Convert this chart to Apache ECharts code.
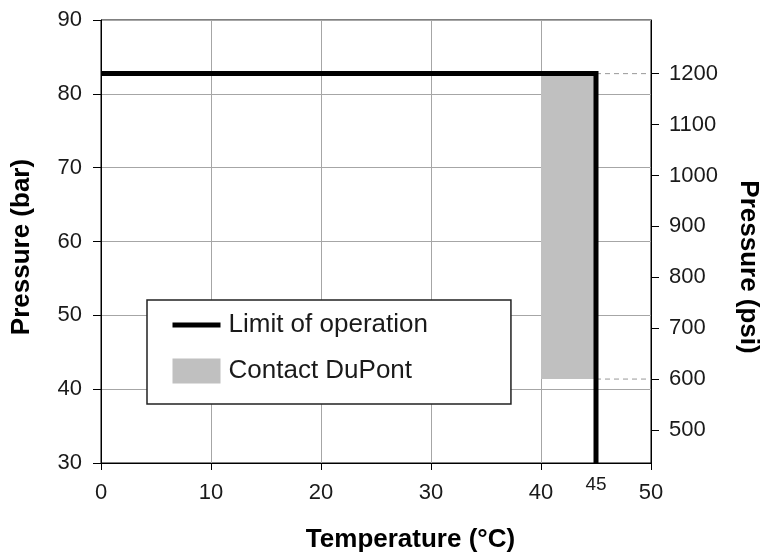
<!DOCTYPE html>
<html>
<head>
<meta charset="utf-8">
<script src="https://cdn.jsdelivr.net/npm/echarts@6/dist/echarts.min.js"></script>
<style>
html,body{margin:0;padding:0;background:#fff;}
#chart{width:761px;height:553px;}
</style>
</head>
<body>
<div id="chart"></div>
<script>
// ---- data ----
const xTicks = [0, 10, 20, 30, 40, 50];
const xExtraTick = [45];
const barTicks = [30, 40, 50, 60, 70, 80, 90];
const psiTicks = [500, 600, 700, 800, 900, 1000, 1100, 1200];
const PSI_PER_BAR = 14.5038;

// limit of operation polyline (temperature °C, pressure bar)
const limitTemp = [0, 45, 45];
const limitBar = [82.74, 82.74, 30];

// Contact DuPont zone: [tMin, pMin(bar), tMax, pMax(bar)]
const contactZone = [[40, 41.37, 45, 82.74]];

// dashed reference lines on psi axis (from x=45 to x=50)
const refPsi = [1200, 600];
const refTemp = [45, 50];

const FONT = "'Liberation Sans', Arial, sans-serif";
const TXT = '#1a1a1a';

const chart = echarts.init(document.getElementById('chart'), null, {renderer: 'canvas'});

const series = [
  {
    name: 'Contact DuPont',
    type: 'custom',
    z: 1,
    itemStyle: {color: '#c0c0c0'},
    encode: {x: [0, 2], y: [1, 3]},
    renderItem: function (params, api) {
      const p0 = api.coord([api.value(0), api.value(3)]);
      const p1 = api.coord([api.value(2), api.value(1)]);
      return {
        type: 'rect',
        shape: {x: p0[0], y: p0[1], width: p1[0] - p0[0], height: p1[1] - p0[1]},
        style: {fill: '#c0c0c0'}
      };
    },
    data: contactZone
  },
  {
    name: 'Limit of operation',
    type: 'line',
    z: 5,
    symbol: 'none',
    color: '#000',
    lineStyle: {color: '#000', width: 5, cap: 'butt', join: 'miter'},
    data: limitTemp.map((t, i) => [t, limitBar[i]])
  }
];
refPsi.forEach(p => {
  series.push({
    name: 'ref' + p,
    type: 'line',
    yAxisIndex: 1,
    z: 3,
    symbol: 'none',
    silent: true,
    lineStyle: {color: '#999', width: 1, type: [5, 4]},
    data: refTemp.map(t => [t, p])
  });
});

const option = {
  animation: false,
  backgroundColor: '#fff',
  textStyle: {fontFamily: FONT},
  grid: {
    left: 101, right: 110, top: 20, bottom: 90,
    outerBoundsMode: 'none', containLabel: false,
    show: true, borderColor: '#000', borderWidth: 1, backgroundColor: 'transparent'
  },
  legend: {
    orient: 'vertical',
    left: 147, top: 300,
    padding: [12, 83, 20, 23],
    itemGap: 20,
    itemWidth: 48, itemHeight: 25,
    borderColor: '#222', borderWidth: 1.5,
    backgroundColor: '#fff',
    textStyle: {fontSize: 26, color: TXT, fontFamily: FONT, padding: [0, 0, 0, 3]},
    data: [
      {name: 'Limit of operation', itemStyle: {opacity: 0}, lineStyle: {color: '#000', width: 5}},
      {name: 'Contact DuPont', icon: 'rect', itemStyle: {color: '#c0c0c0'}}
    ]
  },
  xAxis: [
    {
      type: 'value', min: 0, max: 50, interval: 10,
      name: 'Temperature (°C)', nameLocation: 'middle', nameGap: 64,
      nameTextStyle: {fontSize: 26, fontWeight: 'bold', color: '#000', fontFamily: FONT, padding: [0, 0, 0, 69]},
      axisLine: {show: true, onZero: false, lineStyle: {color: '#000', width: 1}},
      axisTick: {show: true, length: 7, lineStyle: {color: '#000'}},
      axisLabel: {fontSize: 22, color: TXT, margin: 19, fontFamily: FONT, customValues: xTicks},
      splitLine: {show: true, lineStyle: {color: '#a6a6a6', width: 1}}
    },
    {
      type: 'value', min: 0, max: 50, position: 'bottom',
      axisLine: {show: false}, axisTick: {show: false}, splitLine: {show: false},
      axisLabel: {fontSize: 19, color: TXT, margin: 12, fontFamily: FONT, customValues: xExtraTick}
    }
  ],
  yAxis: [
    {
      type: 'value', min: 30, max: 90, interval: 10,
      name: 'Pressure (bar)', nameLocation: 'middle', nameGap: 66,
      nameTextStyle: {fontSize: 26, fontWeight: 'bold', color: '#000', fontFamily: FONT, padding: [0, 11, 0, 0]},
      axisLine: {show: true, onZero: false, lineStyle: {color: '#000', width: 1}},
      axisTick: {show: true, length: 8, lineStyle: {color: '#000'}},
      axisLabel: {fontSize: 22, color: TXT, margin: 19, fontFamily: FONT, customValues: barTicks},
      splitLine: {show: true, lineStyle: {color: '#a6a6a6', width: 1}}
    },
    {
      type: 'value', position: 'right',
      min: 30 * PSI_PER_BAR, max: 90 * PSI_PER_BAR,
      name: 'Pressure (psi)', nameLocation: 'middle', nameGap: 84, nameRotate: -90,
      nameTextStyle: {fontSize: 26, fontWeight: 'bold', color: '#000', fontFamily: FONT, padding: [0, 0, 0, 51]},
      axisLine: {show: true, onZero: false, lineStyle: {color: '#000', width: 1}},
      axisTick: {show: true, length: 8, lineStyle: {color: '#000'}, customValues: psiTicks},
      axisLabel: {fontSize: 22, color: TXT, margin: 18, fontFamily: FONT, customValues: psiTicks,
                  formatter: v => String(v)},
      splitLine: {show: false}
    }
  ],
  series: series
};
chart.setOption(option);
</script>
</body>
</html>
